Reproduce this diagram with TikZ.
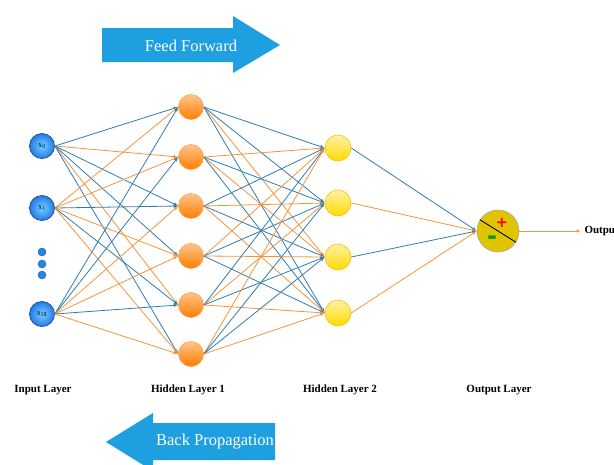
\documentclass[tikz,border=0pt]{standalone}
\usepackage{fontspec}
\setmainfont{Liberation Serif}
\newfontfamily\signfont{DejaVu Sans}
\usepackage{xcolor}
\usepackage{tikz}
\usetikzlibrary{arrows.meta,calc}
\definecolor{edgeblue}{RGB}{46,125,178}
\definecolor{edgeorange}{RGB}{242,150,60}
\definecolor{arrowblue}{RGB}{30,160,224}
\definecolor{inblue}{RGB}{40,120,230}
\definecolor{incyan}{RGB}{110,210,255}
\definecolor{hidorange}{RGB}{255,125,0}
\definecolor{hidyellow}{RGB}{255,218,0}
\definecolor{outyellow}{RGB}{224,196,0}
\pgfkeys{tikz/innode/.style={circle,minimum size=25pt,inner sep=0pt,draw=inblue!70!black,line width=0.8pt,inner color=incyan,outer color=inblue,text=blue!30!black}}
\pgfkeys{tikz/dotnode/.style={circle,minimum size=8pt,inner sep=0pt,fill=inblue!90!cyan,draw=inblue!70!black,line width=0.4pt}}
\pgfkeys{tikz/hidnodea/.style={circle,minimum size=25pt,inner sep=0pt,draw=hidorange!70!white,line width=0.6pt,top color=hidorange!45!white,middle color=hidorange,bottom color=hidorange}}
\pgfkeys{tikz/hidnodeb/.style={circle,minimum size=26pt,inner sep=0pt,draw=hidyellow!70!orange,line width=0.6pt,top color=hidyellow!35!white,middle color=hidyellow,bottom color=hidyellow}}
\pgfkeys{tikz/outnode/.style={circle,minimum size=42pt,inner sep=0pt,fill=outyellow,draw=gray!70,line width=0.6pt}}
\pgfkeys{tikz/edgeb/.style={draw=edgeblue,line width=0.8pt,-{Latex[length=4.5pt,width=3.5pt]}}}
\pgfkeys{tikz/edgeo/.style={draw=edgeorange,line width=0.8pt,-{Latex[length=4.5pt,width=3.5pt]}}}
\pgfkeys{tikz/layerlabel/.style={font=\fontsize{11}{11}\selectfont\bfseries}}
\pgfkeys{tikz/bigtext/.style={text=white,font=\fontsize{16.5}{16.5}\selectfont}}
\pgfkeys{tikz/signtext/.style={inner sep=0pt,font=\signfont\fontsize{15}{15}\selectfont\bfseries}}
\newcommand*\inlabel[1]{\fontsize{8}{8}\selectfont x\textsubscript{#1}}

\begin{document}
\begin{tikzpicture}[x=1pt,y=-1pt]
    \useasboundingbox (0,0) rectangle (614,464);
    % big arrows
    \fill[arrowblue] (102,28) -- (233,28) -- (233,16) -- (280,45) -- (233,73) -- (233,62) -- (102,62) -- cycle;
    \node[bigtext] (ff) at (191,46) {Feed Forward};
    \fill[arrowblue] (275,423) -- (153,423) -- (153,413) -- (106,442) -- (153,471) -- (153,460) -- (275,460) -- cycle;
    \node[bigtext] (bp) at (215,442) {Back Propagation};
    % layers
    \node[innode] (in1) at (42,146) {\inlabel{0}};
    \node[innode] (in2) at (42,208) {\inlabel{1}};
    \node[innode] (in3) at (42,314) {\inlabel{18}};
    \node[dotnode] (dot1) at (42,252) {};
    \node[dotnode] (dot2) at (42,264) {};
    \node[dotnode] (dot3) at (42,275) {};
    \foreach \y [count=\j] in {107,157,206,256,305,354}
        \node[hidnodea] (ha\j) at (191,\y) {};
    \foreach \y [count=\k] in {148,203,257,313}
        \node[hidnodeb] (hb\k) at (338,\y) {};
    \node[outnode] (out) at (498,231) {};
    \draw[black,line width=0.9pt] (out.148) -- (out.-32);
    \node[signtext,text=red] (plus) at (502,223) {+};
    \node[signtext,text=green!60!black,font=\signfont\fontsize{24}{24}\selectfont\bfseries] (minus) at (492,240) {-};
    % connections
    \foreach \i/\cols in {1/{b,o,b,b,o,b},2/{o,o,b,o,b,o},3/{b,b,o,o,b,o}}
        \foreach \c [count=\j] in \cols
            \draw[edge\c] (in\i.east) -- (ha\j.west);
    \foreach \j/\cols in {1/{b,b,o,b},2/{o,b,o,b},3/{b,o,b,o},4/{o,b,o,b},5/{b,o,b,o},6/{o,b,b,o}}
        \foreach \c [count=\k] in \cols
            \draw[edge\c] (ha\j.east) -- (hb\k.west);
    \foreach \c [count=\k] in {b,o,b,o}
        \draw[edge\c] (hb\k.east) -- (out.west);
    \node[layerlabel,anchor=west] (outlbl) at (581,231) {Output};
    \draw[edgeo] (out.east) -- (outlbl.west);
    % labels
    \node[layerlabel] (inlyr) at (43,390) {Input Layer};
    \node[layerlabel] (hlyra) at (188,390) {Hidden Layer 1};
    \node[layerlabel] (hlyrb) at (340,390) {Hidden Layer 2};
    \node[layerlabel] (outlyr) at (499,390) {Output Layer};
\end{tikzpicture}
\end{document}
